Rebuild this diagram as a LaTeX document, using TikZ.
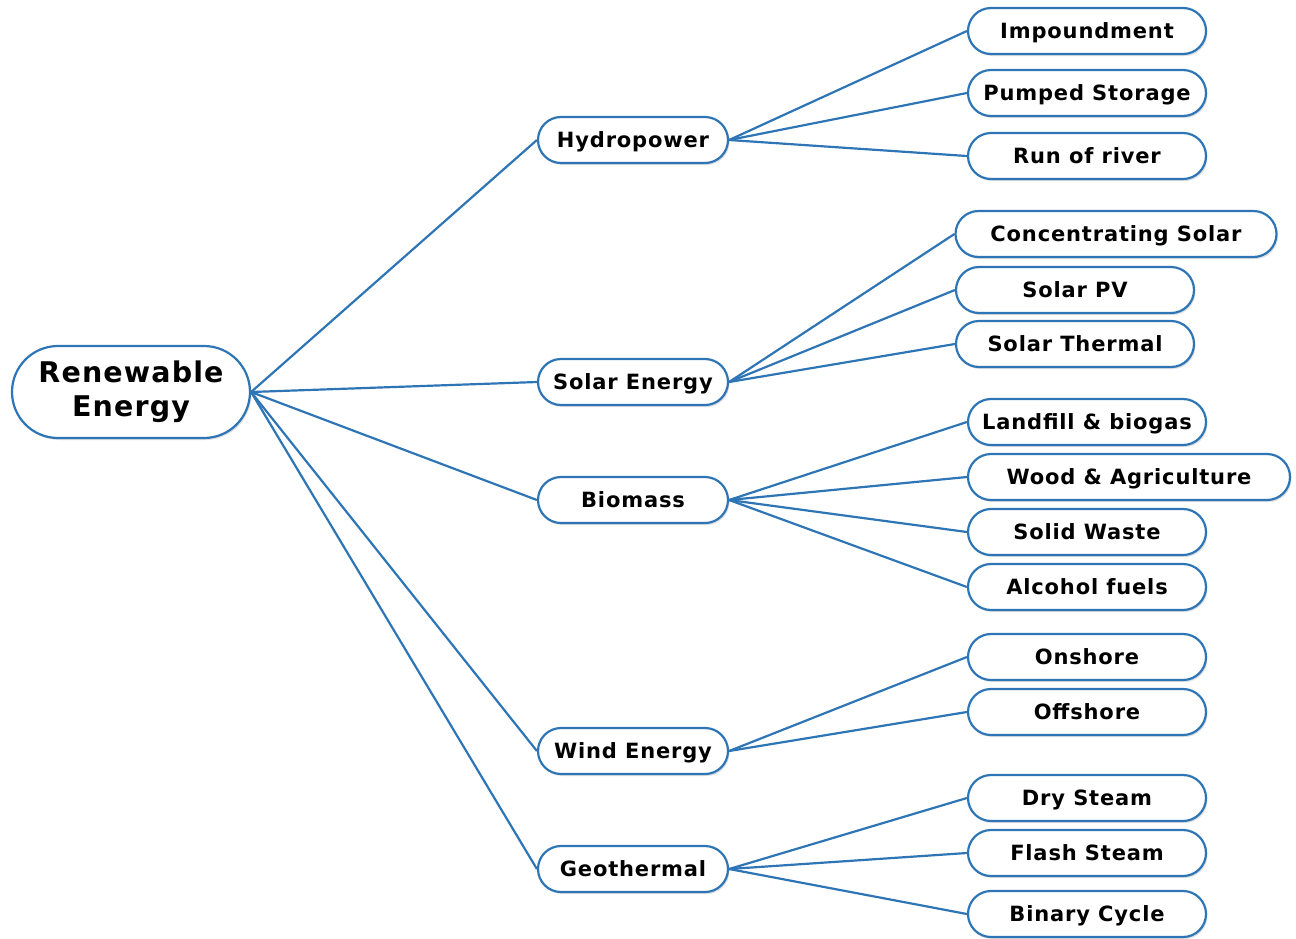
\documentclass[tikz,border=0pt]{standalone}
\usepackage{fontspec}
\setmainfont{DejaVu Sans}[LetterSpace=4]
\usepackage{tikz}
\usetikzlibrary{shadows}
\definecolor{lineblue}{RGB}{46,117,182}

\begin{document}
\begin{tikzpicture}[x=1pt,y=-1pt,line width=2.2pt,font=\bfseries\fontsize{21}{22}\selectfont]
\tikzstyle{basebox}=[draw=lineblue,fill=white,rounded corners=23pt,minimum width=238pt,minimum height=46pt,inner sep=0pt,drop shadow={opacity=0.25,shadow xshift=1.5pt,shadow yshift=-2pt}]
\tikzstyle{leafbox}=[basebox,text height=15pt,text depth=0pt]
\tikzstyle{midbox}=[leafbox,minimum width=190pt]
\tikzstyle{link}=[draw=lineblue]
\useasboundingbox (0,0) rectangle (1296,938);
% root
\node[basebox,rounded corners=46pt,minimum width=238pt,minimum height=92pt,align=center,font=\bfseries\fontsize{28.5}{34}\selectfont] (root) at (131,392) {Renewable\\Energy};
% second level
\node[midbox] (hydro) at (633,140) {Hydropower};
\node[midbox] (solar) at (633,382) {Solar Energy};
\node[midbox] (bio) at (633,500) {Biomass};
\node[midbox] (wind) at (633,751) {Wind Energy};
\node[midbox] (geo) at (633,869) {Geothermal};
% leaves
\node[leafbox] (h1) at (1087,31) {Impoundment};
\node[leafbox] (h2) at (1087,93) {Pumped Storage};
\node[leafbox] (h3) at (1087,156) {Run of river};
\node[leafbox,minimum width=321pt] (s1) at (1116,234) {Concentrating Solar};
\node[leafbox] (s2) at (1075,290) {Solar PV};
\node[leafbox] (s3) at (1075,344) {Solar Thermal};
\node[leafbox] (b1) at (1087,422) {Landfill \& biogas};
\node[leafbox,minimum width=322pt] (b2) at (1129,477) {Wood \& Agriculture};
\node[leafbox] (b3) at (1087,532) {Solid Waste};
\node[leafbox] (b4) at (1087,587) {Alcohol fuels};
\node[leafbox] (w1) at (1087,657) {Onshore};
\node[leafbox] (w2) at (1087,712) {Offshore};
\node[leafbox] (g1) at (1087,798) {Dry Steam};
\node[leafbox] (g2) at (1087,853) {Flash Steam};
\node[leafbox] (g3) at (1087,914) {Binary Cycle};
% connectors
\foreach \m in {hydro,solar,bio,wind,geo}
  \draw[link] (root.east) -- (\m.west);
\foreach \l in {h1,h2,h3}
  \draw[link] (hydro.east) -- (\l.west);
\foreach \l in {s1,s2,s3}
  \draw[link] (solar.east) -- (\l.west);
\foreach \l in {b1,b2,b3,b4}
  \draw[link] (bio.east) -- (\l.west);
\foreach \l in {w1,w2}
  \draw[link] (wind.east) -- (\l.west);
\foreach \l in {g1,g2,g3}
  \draw[link] (geo.east) -- (\l.west);
\end{tikzpicture}
\end{document}
